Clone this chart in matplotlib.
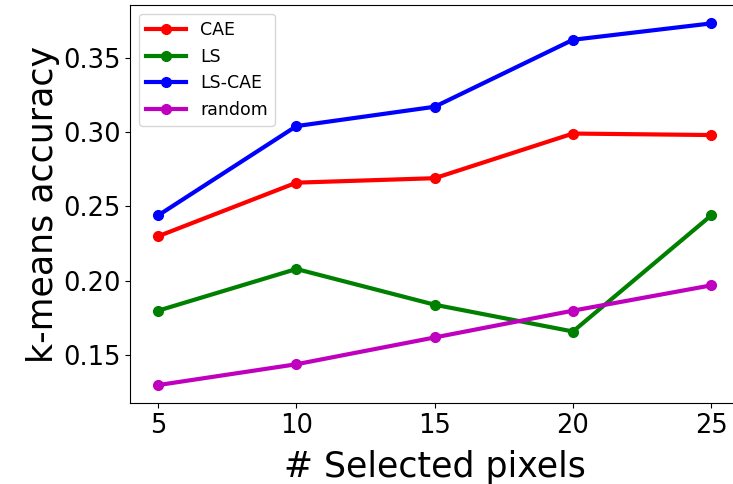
import matplotlib
matplotlib.use("Agg")
import matplotlib.pyplot as plt

# k-means accuracy vs number of selected pixels
n_pixels = [5, 10, 15, 20, 25]
acc_cae = [0.230, 0.266, 0.269, 0.299, 0.298]
acc_ls = [0.180, 0.208, 0.184, 0.166, 0.244]
acc_lscae = [0.244, 0.304, 0.317, 0.362, 0.373]
acc_random = [0.130, 0.144, 0.162, 0.180, 0.197]

fig, ax = plt.subplots(figsize=(7.33, 4.84), dpi=100)
ax.plot(n_pixels, acc_cae, "r-o", lw=3, ms=7, label="CAE")
ax.plot(n_pixels, acc_ls, "g-o", lw=3, ms=7, label="LS")
ax.plot(n_pixels, acc_lscae, "b-o", lw=3, ms=7, label="LS-CAE")
ax.plot(n_pixels, acc_random, "m-o", lw=3, ms=7, label="random")

ax.set_xticks(n_pixels)
ax.set_yticks([0.15, 0.20, 0.25, 0.30, 0.35])
ax.tick_params(labelsize=18.5)
ax.set_xlabel("# Selected pixels", fontsize=25, labelpad=8)
ax.set_ylabel("k-means accuracy", fontsize=25, labelpad=2)
ax.legend(loc="upper left", fontsize=12.5, handlelength=2.3)

fig.subplots_adjust(left=0.178, right=1.008, top=0.989, bottom=0.167)
fig.savefig("out.png")
